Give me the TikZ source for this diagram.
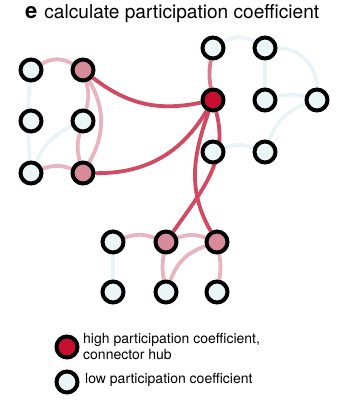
\documentclass[tikz,border=0pt]{standalone}
\usepackage{fontspec}
\setmainfont{TeX Gyre Heros}
\usetikzlibrary{backgrounds}
\definecolor{lowfill}{HTML}{EBF5F8}
\definecolor{midfill}{HTML}{D78B9A}
\definecolor{hubfill}{HTML}{C8102E}
\definecolor{bluecol}{HTML}{E9F4F6}
\definecolor{pinkcol}{HTML}{E8B4BF}
\definecolor{redcol}{HTML}{D24A62}
\definecolor{rosecol}{HTML}{DB7A8C}
\begin{document}
\begin{tikzpicture}[x=1pt, y=1pt]
\tikzstyle{lownode}=[circle, draw=black, line width=4pt, fill=lowfill, minimum size=21pt, inner sep=0pt]
\tikzstyle{midnode}=[lownode, fill=midfill]
\tikzstyle{hubnode}=[lownode, fill=hubfill]
\tikzstyle{blueedge}=[draw=bluecol, line width=3.8pt]
\tikzstyle{pinkedge}=[draw=pinkcol, line width=3.8pt]
\tikzstyle{rededge}=[draw=redcol, line width=3.8pt]
\tikzstyle{legendtext}=[anchor=west, inner sep=0pt, font=\fontsize{14}{16}\selectfont, align=left]
\useasboundingbox (0,0) rectangle (343,-413);
\node[anchor=base west, inner sep=0pt] (title) at (25,-18) {{\fontsize{22}{22}\selectfont\bfseries e}\hspace{7pt}\fontsize{19.1}{20}\selectfont calculate participation coefficient};
\node[lownode] (la) at (31,-70) {};
\node[midnode] (lb) at (83,-70) {};
\node[lownode] (lc) at (31,-121) {};
\node[lownode] (ld) at (83,-121) {};
\node[lownode] (le) at (31,-173) {};
\node[midnode] (lf) at (83,-173) {};
\node[lownode] (ra) at (213,-48) {};
\node[lownode] (rb) at (265,-48) {};
\node[hubnode] (hub) at (213,-100) {};
\node[lownode] (rc) at (265,-100) {};
\node[lownode] (rd) at (317,-100) {};
\node[lownode] (re) at (213,-152) {};
\node[lownode] (rf) at (265,-152) {};
\node[lownode] (ba) at (113,-242) {};
\node[midnode] (bb) at (166,-242) {};
\node[midnode] (bc) at (217,-242) {};
\node[lownode] (bd) at (113,-292) {};
\node[lownode] (be) at (166,-292) {};
\node[lownode] (bf) at (217,-292) {};
\begin{scope}[on background layer]
\draw [blueedge] (la) to[bend right=5] (le);
\draw [blueedge] (le) to[bend left=20] (ld);
\draw [pinkedge] (la) to[bend left=30] (lb);
\draw [pinkedge] (le) to[bend left=20] (lf);
\draw [pinkedge] (lb) to[bend left=15] (ld);
\draw [pinkedge] (ld) to[bend right=15] (lf);
\draw [pinkedge] (lb) to[bend left=30] (lf);
\draw [blueedge] (ra) to[bend left=30] (rb);
\draw [blueedge] (rb) to[bend left=45] (rd);
\draw [blueedge] (rb) -- (rc);
\draw [blueedge] (rc) to[bend left=15] (rd);
\draw [blueedge] (rf) to[bend left=25] (rd);
\draw [blueedge] (re) to[bend left=20] (rf);
\draw [pinkedge] (ba) to[bend left=20] (bb);
\draw [pinkedge] (bb) to[bend left=20] (bc);
\draw [blueedge] (ba) -- (bd);
\draw [pinkedge] (bb) to[bend right=10] (be);
\draw [pinkedge] (bc) to[bend right=25] (be);
\draw [pinkedge] (bc) to[bend left=10] (bf);
\draw [draw=rosecol, line width=3.8pt] (hub) to[bend left=10] (ra);
\draw [rededge] (lb) to[bend right=25] (hub);
\draw [rededge] (lf) to[bend right=30] (hub);
\draw [rededge] (hub) to[out=-110, in=120] (bc);
\draw [rededge] (hub) to[out=-75, in=55] (bb);
\end{scope}
\node[hubnode] (keyhub) at (67,-347) {};
\node[lownode] (keylow) at (67,-382) {};
\node[legendtext] (hubtext) at (83,-346) {high participation coefficient,\\connector hub};
\node[legendtext] (lowtext) at (85,-380) {low participation coefficient};
\end{tikzpicture}
\end{document}
